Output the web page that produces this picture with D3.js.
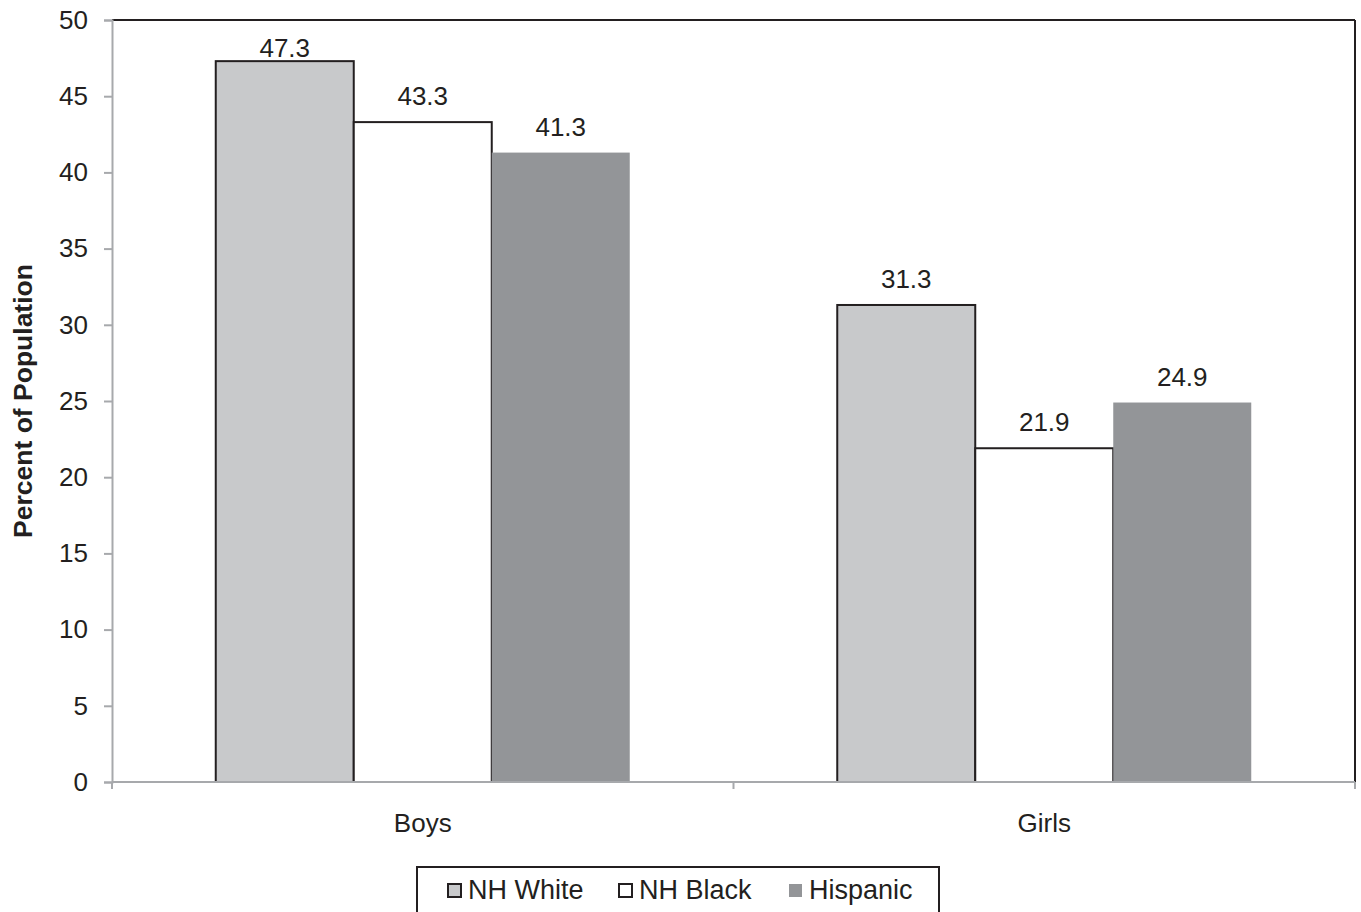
<!DOCTYPE html>
<html><head><meta charset="utf-8">
<script src="https://cdn.jsdelivr.net/npm/d3@7"></script>
<style>body{margin:0;background:#fff}svg{display:block}text{font-family:"Liberation Sans",Arial,sans-serif;fill:#231f20}</style>
</head><body><svg id="c" width="1361" height="912"></svg>
<script>
const categories = ["Boys", "Girls"];
const seriesNames = ["NH White", "NH Black", "Hispanic"];
const nhWhite = [47.3, 31.3];
const nhBlack = [43.3, 21.9];
const hispanic = [41.3, 24.9];
const yTicks = [0, 5, 10, 15, 20, 25, 30, 35, 40, 45, 50];
const fills = ["#c8c9cb", "#ffffff", "#939598"];
const strokes = ["#231f20", "#231f20", "none"];

const series = [nhWhite, nhBlack, hispanic];
const svg = d3.select("#c");
const L = 112, R = 1355, T = 20, B = 782;
const FS = 26;
const y = d3.scaleLinear().domain([0, 50]).range([B, T]);
const x0 = d3.scaleBand().domain(categories).range([L, R]).paddingInner(0).paddingOuter(0);
const groupW = x0.bandwidth() * 414 / 621.5;
const x1 = d3.scaleBand().domain(seriesNames).range([0, groupW]).padding(0);

svg.append("line").attr("x1", L).attr("x2", R).attr("y1", T).attr("y2", T).attr("stroke", "#231f20").attr("stroke-width", 2);
svg.append("line").attr("x1", R).attr("x2", R).attr("y1", T).attr("y2", B).attr("stroke", "#231f20").attr("stroke-width", 2);

categories.forEach((c, ci) => {
  const gx = x0(c) + (x0.bandwidth() - groupW) / 2;
  seriesNames.forEach((s, si) => {
    const v = series[si][ci];
    svg.append("rect")
      .attr("x", gx + x1(s)).attr("width", x1.bandwidth())
      .attr("y", y(v)).attr("height", B - y(v))
      .attr("fill", fills[si]).attr("stroke", strokes[si]).attr("stroke-width", 2);
  });
});
categories.forEach((c, ci) => {
  const gx = x0(c) + (x0.bandwidth() - groupW) / 2;
  seriesNames.forEach((s, si) => {
    const v = series[si][ci];
    svg.append("text").attr("x", gx + x1(s) + x1.bandwidth() / 2)
      .attr("y", Math.max(y(v) - 17, 57)).attr("text-anchor", "middle")
      .attr("font-size", FS).text(v.toFixed(1));
  });
});

const ya = svg.append("g").attr("transform", `translate(${L},0)`)
  .call(d3.axisLeft(y).tickValues(yTicks).tickSize(8).tickPadding(16));
ya.select(".domain").attr("stroke", "#a7a9ac").attr("stroke-width", 2);
ya.selectAll(".tick line").attr("stroke", "#a7a9ac").attr("stroke-width", 2);
ya.selectAll(".tick text").attr("font-size", FS).attr("font-family", "Liberation Sans, Arial, sans-serif").attr("fill", "#231f20");

const xa = svg.append("g").attr("transform", `translate(0,${B})`)
  .call(d3.axisBottom(x0).tickSize(0).tickPadding(32));
xa.select(".domain").attr("stroke", "#a7a9ac").attr("stroke-width", 2).attr("d", `M${L},0H${R}`);
xa.selectAll(".tick text").attr("font-size", FS).attr("font-family", "Liberation Sans, Arial, sans-serif").attr("fill", "#231f20");
[L, x0("Girls"), R].forEach(px => {
  xa.append("line").attr("x1", px).attr("x2", px).attr("y1", 0).attr("y2", 7).attr("stroke", "#a7a9ac").attr("stroke-width", 2);
});

svg.append("text").attr("transform", `translate(32,${(T + B) / 2}) rotate(-90)`)
  .attr("text-anchor", "middle").attr("font-size", 26.5).attr("font-weight", "bold").text("Percent of Population");

const lg = svg.append("g");
lg.append("rect").attr("x", 417).attr("y", 867).attr("width", 522).attr("height", 50).attr("fill", "#fff").attr("stroke", "#231f20").attr("stroke-width", 2);
const lx = [448, 619, 789];
seriesNames.forEach((s, i) => {
  lg.append("rect").attr("x", lx[i]).attr("y", 884).attr("width", 13).attr("height", 13)
    .attr("fill", fills[i]).attr("stroke", strokes[i]).attr("stroke-width", 2);
  lg.append("text").attr("x", lx[i] + 20).attr("y", 899).attr("font-size", 27).text(s);
});
</script></body></html>
